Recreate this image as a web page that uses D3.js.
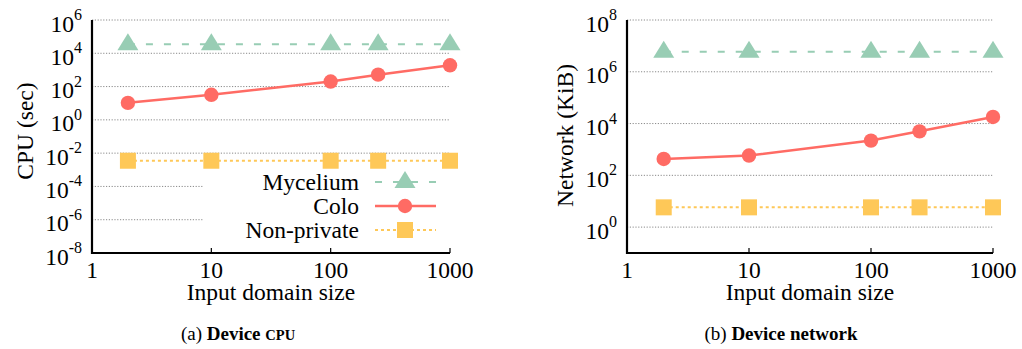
<!DOCTYPE html>
<html>
<head>
<meta charset="utf-8">
<script src="https://cdn.jsdelivr.net/npm/d3@7"></script>
<style>
  body { margin: 0; background: #fff; }
</style>
</head>
<body>
<svg id="chart"></svg>
<script>
var width = 1022, height = 349;
var serif = "'Liberation Serif', 'DejaVu Serif', serif";
var fontSize = 23.5;

// data
var inputSizes = [2, 10, 100, 250, 1000];
var xTicks = [1, 10, 100, 1000];

var cpuMycelium = [35000, 35000, 35000, 35000, 35000];
var cpuColo = [10.5, 32, 200, 520, 1900];
var cpuNonPrivate = [0.0035, 0.0035, 0.0035, 0.0035, 0.0035];
var cpuTickExp = [-8, -6, -4, -2, 0, 2, 4, 6];

var netMycelium = [5900000, 5900000, 5900000, 5900000, 5900000];
var netColo = [430, 580, 2200, 5000, 18000];
var netNonPrivate = [5.8, 5.8, 5.8, 5.8, 5.8];
var netTickExp = [0, 2, 4, 6, 8];

var seriesNames = ["Mycelium", "Colo", "Non-private"];
var colors = ["#98cdb4", "#ff6b64", "#fec858"];

var svg = d3.select("#chart").attr("width", width).attr("height", height)
    .attr("font-family", serif);

//marker drawing, shape depends on series index
function drawMarker(g, k, x, y) {
    if (k == 0) {
        g.append("path")
            .attr("d", "M" + x + "," + (y - 11) + "L" + (x + 10.5) + "," + (y + 6) + "L" + (x - 10.5) + "," + (y + 6) + "Z")
            .attr("fill", colors[0]);
    } else if (k == 1) {
        g.append("circle").attr("cx", x).attr("cy", y).attr("r", 7.2).attr("fill", colors[1]);
    } else {
        g.append("rect").attr("x", x - 8).attr("y", y - 8).attr("width", 16).attr("height", 16).attr("fill", colors[2]);
    }
}

var lineStyles = [
    {dash: "7,11", w: 2},
    {dash: null, w: 2.5},
    {dash: "3,3", w: 2}
];

function drawPanel(cfg) {
    var g = svg.append("g");
    var x = d3.scaleLog().domain([1, 1000]).range([cfg.left, cfg.right]);
    var y = d3.scaleLog().domain(cfg.yDomain).range([253, 20]);

    //gridlines
    cfg.tickExp.forEach(function (e) {
        var yy = y(Math.pow(10, e));
        if (Math.abs(yy - 253) > 1) {
            g.append("line")
                .attr("x1", cfg.left).attr("x2", cfg.right)
                .attr("y1", yy).attr("y2", yy)
                .attr("stroke", "#8a8a8a").attr("stroke-width", 1)
                .attr("stroke-dasharray", "1.2,1.6");
        }
        //tick label 10^e
        var t = g.append("text")
            .attr("x", cfg.left - 10)
            .attr("y", yy + 11.5)
            .attr("text-anchor", "end")
            .attr("font-size", fontSize);
        t.append("tspan").text("10");
        t.append("tspan").attr("dy", -11.5).attr("font-size", 16).text(e);
    });

    //legend box hides gridlines behind it
    if (cfg.legend) {
        g.append("rect").attr("x", 204).attr("y", 168).attr("width", 248).attr("height", 80).attr("fill", "#fff");
    }

    //x ticks
    xTicks.forEach(function (v) {
        g.append("line")
            .attr("x1", x(v)).attr("x2", x(v))
            .attr("y1", 253).attr("y2", 248)
            .attr("stroke", "#000").attr("stroke-width", 1.2);
        g.append("text")
            .attr("x", x(v)).attr("y", 278)
            .attr("text-anchor", "middle").attr("font-size", fontSize)
            .text(v);
    });

    //axes
    g.append("path")
        .attr("d", "M" + cfg.left + ",20V253H" + cfg.right)
        .attr("fill", "none").attr("stroke", "#000").attr("stroke-width", 2.2);

    //series
    cfg.series.forEach(function (vals, k) {
        var line = d3.line()
            .x(function (d, i) { return x(inputSizes[i]); })
            .y(function (d) { return y(d); });
        g.append("path")
            .datum(vals)
            .attr("d", line)
            .attr("fill", "none")
            .attr("stroke", colors[k])
            .attr("stroke-width", lineStyles[k].w)
            .attr("stroke-dasharray", lineStyles[k].dash);
        vals.forEach(function (d, i) {
            drawMarker(g, k, x(inputSizes[i]), y(d));
        });
    });

    //legend
    if (cfg.legend) {
        var rows = [182, 206, 230];
        seriesNames.forEach(function (name, k) {
            g.append("text")
                .attr("x", 359).attr("y", rows[k] + 7.5)
                .attr("text-anchor", "end").attr("font-size", fontSize)
                .text(name);
            g.append("line")
                .attr("x1", 375).attr("x2", 436)
                .attr("y1", rows[k]).attr("y2", rows[k])
                .attr("stroke", colors[k])
                .attr("stroke-width", lineStyles[k].w)
                .attr("stroke-dasharray", lineStyles[k].dash);
            drawMarker(g, k, 405, rows[k]);
        });
    }

    var mid = (cfg.left + cfg.right) / 2;
    g.append("text")
        .attr("x", mid).attr("y", 300)
        .attr("text-anchor", "middle").attr("font-size", fontSize)
        .text("Input domain size");

    g.append("text")
        .attr("transform", "translate(" + cfg.yLabelX + "," + cfg.yLabelY + ") rotate(-90)")
        .attr("text-anchor", "middle").attr("font-size", fontSize)
        .text(cfg.yLabel);

    //caption, centred under the whole sub-figure
    var cap = g.append("text")
        .attr("x", cfg.capX).attr("y", 340)
        .attr("text-anchor", "middle").attr("font-size", 19);
    cap.append("tspan").text(cfg.capLetter + " ");
    cap.append("tspan").attr("font-weight", "bold").text("Device ");
    cap.append("tspan").attr("font-weight", "bold").attr("font-size", cfg.capSmall ? 14.5 : 19).text(cfg.capWord);
}

drawPanel({
    left: 92, right: 450,
    yDomain: [1e-8, 1e6],
    tickExp: cpuTickExp,
    series: [cpuMycelium, cpuColo, cpuNonPrivate],
    legend: true,
    yLabel: "CPU (sec)", yLabelX: 33, yLabelY: 131,
    capX: 238,
    capLetter: "(a)", capWord: "CPU", capSmall: true
});

drawPanel({
    left: 627, right: 993,
    yDomain: [0.1, 1e8],
    tickExp: netTickExp,
    series: [netMycelium, netColo, netNonPrivate],
    legend: false,
    yLabel: "Network (KiB)", yLabelX: 573, yLabelY: 135.5,
    capX: 781,
    capLetter: "(b)", capWord: "network", capSmall: false
});
</script>
</body>
</html>
